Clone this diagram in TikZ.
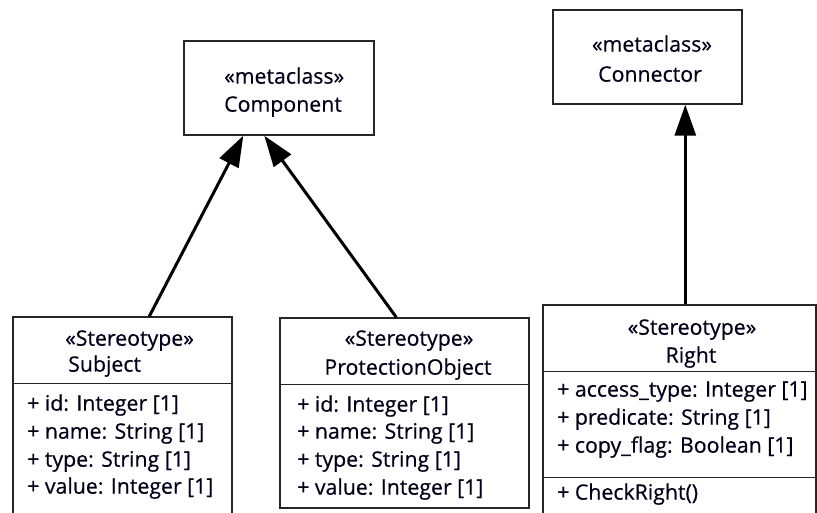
\documentclass[tikz,border=0pt]{standalone}
\usepackage{fontspec}
\setmainfont{Open Sans}[FakeBold=0.5]
\usetikzlibrary{arrows.meta,calc}
\begin{document}
\begin{tikzpicture}[x=1pt,y=-1pt,
  box/.style={draw=black!85, line width=1.4pt, fill=white, inner sep=0pt},
  txt/.style={inner sep=0pt, anchor=mid west, yshift=-3pt, text=black!90!blue, font=\fontsize{21.3}{25}\selectfont},
  ctxt/.style={inner sep=0pt, anchor=mid, yshift=-3pt, text=black!90!blue, font=\fontsize{21.3}{25}\selectfont},
  gen/.style={line width=3pt, -{Triangle[length=31pt,width=21pt]}}]
\useasboundingbox (0,0) rectangle (817,513);
\clip (0,0) rectangle (817,513);
% class boxes
\node[box, minimum width=190pt, minimum height=94pt] (comp) at (279,88) {};
\node[box, minimum width=189pt, minimum height=94pt] (conn) at (647.5,57) {};
\node[box, minimum width=219pt, minimum height=223pt] (subj) at (122.5,428.5) {};
\node[box, minimum width=249pt, minimum height=190pt] (po) at (404.5,413) {};
\node[box, minimum width=273pt, minimum height=235pt] (right) at (679.5,422.5) {};
% compartment dividers
\draw[draw=black!85, line width=1.4pt] ($(subj.north west)+(0,67)$) -- ($(subj.north east)+(0,67)$);
\draw[draw=black!85, line width=1.4pt] ($(po.north west)+(0,67)$) -- ($(po.north east)+(0,67)$);
\draw[draw=black!85, line width=1.4pt] ($(right.north west)+(0,67)$) -- ($(right.north east)+(0,67)$);
\draw[draw=black!85, line width=1.4pt] ($(right.north west)+(0,173)$) -- ($(right.north east)+(0,173)$);
% texts
\node[txt] (compst) at (224,78) {«metaclass»};
\node[txt] (compnm) at (224,106) {Component};
\node[ctxt] (connst) at (652,46) {«metaclass»};
\node[ctxt] (connnm) at (650,76) {Connector};
\node[txt] (subjst) at (65,340) {«Stereotype»};
\node[txt] (subjnm) at (68,366) {Subject};
\node[txt] (subja1) at (27,405) {+ id: Integer [1]};
\node[txt] (subja2) at (27,433) {+ name: String [1]};
\node[txt] (subja3) at (27,461) {+ type: String [1]};
\node[txt] (subja4) at (27,488) {+ value: Integer [1]};
\node[ctxt] (post) at (409,340) {«Stereotype»};
\node[ctxt] (ponm) at (408,369) {ProtectionObject};
\node[txt] (poa1) at (297,406) {+ id: Integer [1]};
\node[txt] (poa2) at (297,433) {+ name: String [1]};
\node[txt] (poa3) at (297,461) {+ type: String [1]};
\node[txt] (poa4) at (297,489) {+ value: Integer [1]};
\node[ctxt] (rightst) at (692,329) {«Stereotype»};
\node[ctxt] (rightnm) at (691,357) {Right};
\node[txt] (righta1) at (557,391) {+ access\_type: Integer [1]};
\node[txt] (righta2) at (557,419) {+ predicate: String [1]};
\node[txt] (righta3) at (557,447) {+ copy\_flag: Boolean [1]};
\node[txt] (rightop) at (557,494) {+ CheckRight()};
% generalizations
\draw[gen] ($(subj.north west)+(137,0)$) -- ($(comp.south west)+(60,0)$);
\draw[gen] ($(po.north west)+(117,0)$) -- ($(comp.south west)+(81,0)$);
\draw[gen] ($(right.north west)+(143,0)$) -- ($(conn.south west)+(133,0)$);
\end{tikzpicture}
\end{document}
